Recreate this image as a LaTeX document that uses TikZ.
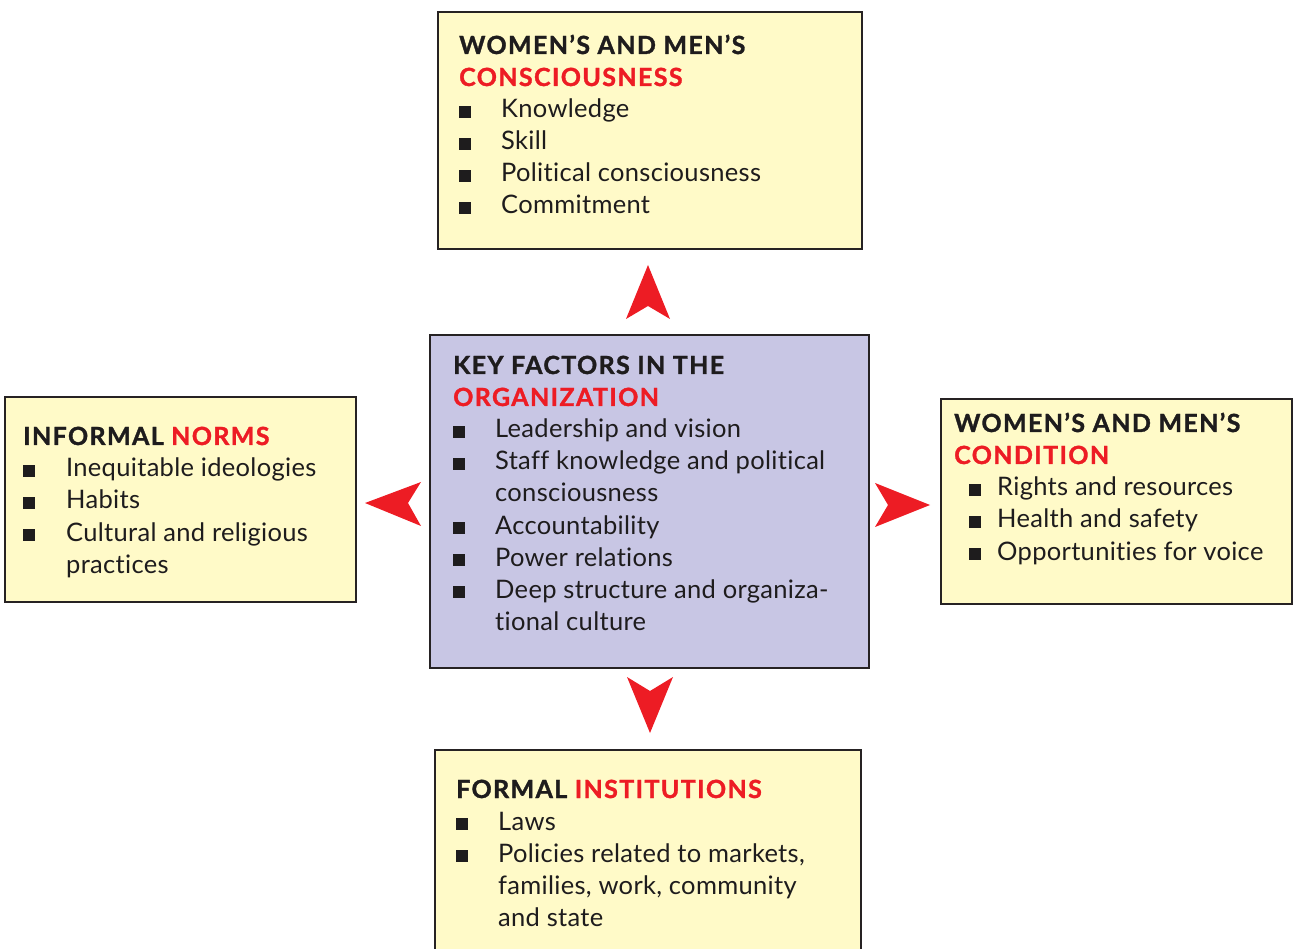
\documentclass[tikz,border=0pt]{standalone}
\usepackage{fontspec}
\setmainfont{Lato}
\newfontfamily\itemfont{Lato}[LetterSpace=1.2, Ligatures=NoCommon]
\newfontfamily\headfont{Lato}[UprightFont={* Bold}, BoldFont={* Bold}, LetterSpace=5.5, FakeBold=1.3, Ligatures=NoCommon]
\definecolor{panelyellow}{RGB}{255,250,200}
\definecolor{panellilac}{RGB}{200,198,228}
\definecolor{edgegray}{RGB}{38,34,35}
\definecolor{headred}{RGB}{237,28,36}
\definecolor{inkblack}{RGB}{30,28,29}
\newcommand\itemsize{\fontsize{25.5}{32}\selectfont}
\newcommand\headsize{\fontsize{25}{32}\selectfont}
\tikzset{
  panel/.style={draw=edgegray, line width=2.4pt, fill=panelyellow, anchor=north west, inner sep=0pt},
  headtxt/.style={anchor=base west, inner sep=0pt, text=inkblack, font=\headfont\headsize},
  itemtxt/.style={anchor=base west, inner sep=0pt, text=inkblack, font=\itemfont\itemsize},
  sq/.style={fill=inkblack, minimum size=12pt, inner sep=0pt, anchor=south west},
  pointer/.style={fill=headred, draw=none},
}
\begin{document}
\begin{tikzpicture}[x=1pt, y=-1pt]
\useasboundingbox (0,0) rectangle (1294,949);

% ---- panels ----
\node[panel, minimum width=424pt, minimum height=237pt] (cons) at (437,11) {};
\node[panel, fill=panellilac, minimum width=439pt, minimum height=333pt] (org) at (429,334) {};
\node[panel, minimum width=351pt, minimum height=205pt] (norms) at (4,396) {};
\node[panel, minimum width=351pt, minimum height=205pt] (cond) at (940,398) {};
\node[panel, minimum width=426pt, minimum height=230pt] (inst) at (434,749) {};

% ---- consciousness ----
\node[headtxt] (cons-h1) at (459,54) {WOMEN’S AND MEN’S};
\node[headtxt, text=headred] (cons-h2) at (459,86) {CONSCIOUSNESS};
\foreach \t [count=\i] in {Knowledge, Skill, Political consciousness, Commitment}{
  \node[sq] (cons-b\i) at (459,86+32*\i) {};
  \node[itemtxt] (cons-i\i) at (501,86+32*\i) {\t};
}

% ---- organization ----
\node[headtxt] (org-h1) at (453,374) {KEY FACTORS IN THE};
\node[headtxt, text=headred] (org-h2) at (453,406) {ORGANIZATION};
\foreach \t/\y in {Leadership and vision/438, Staff knowledge and political/470,
                  consciousness/502, Accountability/534, Power relations/566,
                  Deep structure and organiza-/598, tional culture/630}{
  \node[itemtxt] at (495,\y) {\t};
}
\foreach \y [count=\i] in {438,470,534,566,598}{
  \node[sq] (org-b\i) at (453,\y) {};
}

% ---- informal norms ----
\node[headtxt] (norms-h) at (23,445) {INFORMAL \textcolor{headred}{NORMS}};
\foreach \t/\y in {Inequitable ideologies/477, Habits/509, Cultural and religious/541, practices/573}{
  \node[itemtxt] at (66,\y) {\t};
}
\foreach \y [count=\i] in {477,509,541}{
  \node[sq] (norms-b\i) at (23,\y) {};
}

% ---- condition ----
\node[headtxt] (cond-h1) at (954,432) {WOMEN’S AND MEN’S};
\node[headtxt, text=headred] (cond-h2) at (954,464) {CONDITION};
\foreach \t [count=\i] in {Rights and resources, Health and safety, Opportunities for voice}{
  \node[sq] (cond-b\i) at (969,464+32*\i) {};
  \node[itemtxt] (cond-i\i) at (997,464+32*\i) {\t};
}

% ---- formal institutions ----
\node[headtxt] (inst-h) at (456,798) {FORMAL \textcolor{headred}{INSTITUTIONS}};
\foreach \t/\y in {Laws/830, {Policies related to markets,}/862, {families, work, community}/894, and state/926}{
  \node[itemtxt] at (498,\y) {\t};
}
\foreach \y [count=\i] in {830,862}{
  \node[sq] (inst-b\i) at (456,\y) {};
}

% ---- red arrowheads between the panels ----
\fill[pointer] (648,265) -- (670,319) -- (648,306) -- (626,319) -- cycle;
\fill[pointer] (365,503) -- (421,482) -- (408,503) -- (421,526) -- cycle;
\fill[pointer] (930,505) -- (875,483) -- (888,505) -- (875,527) -- cycle;
\fill[pointer] (650,733) -- (673,677) -- (650,691) -- (627,677) -- cycle;
\end{tikzpicture}
\end{document}
